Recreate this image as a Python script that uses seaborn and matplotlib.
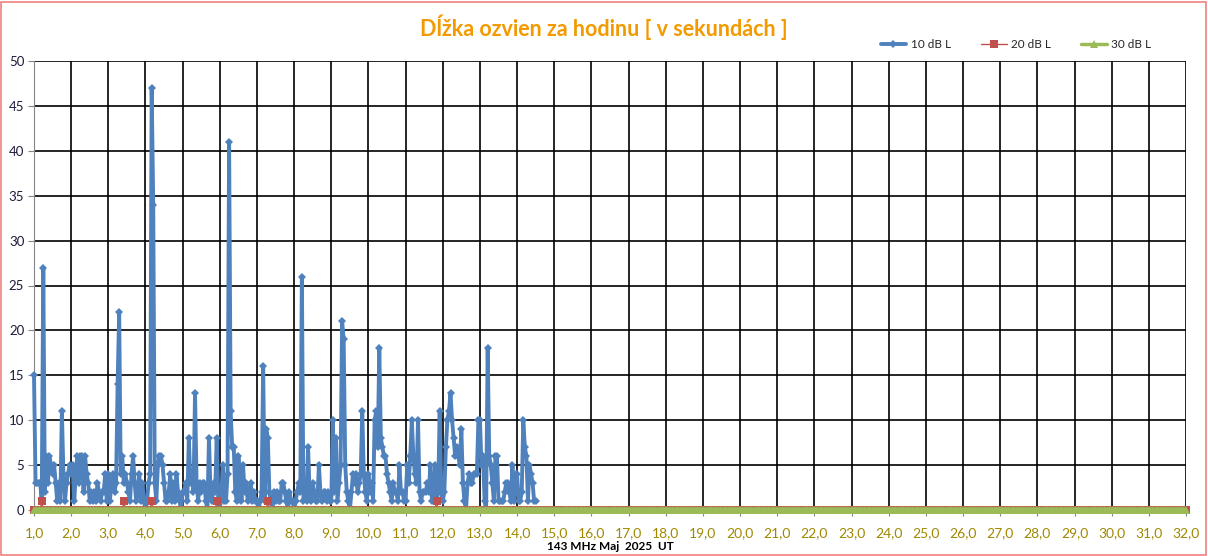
import numpy as np
import pandas as pd
import matplotlib
matplotlib.use('Agg')
import matplotlib.pyplot as plt
from matplotlib.patches import Rectangle
import seaborn as sns

# hourly echo duration [s], 10 dB L, one list per day of May (hour 0..23)
day01 = [15, 3, 3, 3, 3, 1, 27, 2, 6, 3, 6, 5, 4, 5, 3, 1, 3, 1, 11, 4, 1, 3, 4, 5]
day02 = [4, 5, 1, 4, 6, 3, 6, 6, 2, 6, 4, 3, 1, 2, 1, 2, 1, 3, 2, 1, 2, 2, 4, 1]
day03 = [4, 1, 3, 4, 2, 3, 14, 22, 4, 6, 3, 4, 3, 2, 1, 4, 6, 3, 1, 2, 4, 1, 3, 1]
day04 = [0, 1, 3, 4, 47, 34, 3, 1, 5, 6, 6, 5, 3, 1, 1, 2, 4, 1, 3, 1, 4, 2, 1, 0]
day05 = [2, 2, 3, 1, 8, 3, 4, 2, 13, 3, 1, 3, 2, 3, 3, 1, 0, 8, 2, 1, 3, 2, 8, 1]
day06 = [0, 2, 5, 1, 1, 4, 41, 11, 7, 7, 2, 1, 6, 4, 1, 5, 2, 3, 1, 2, 3, 1, 2, 1]
day07 = [1, 0, 1, 2, 16, 1, 9, 8, 2, 1, 0, 2, 1, 2, 1, 1, 3, 3, 2, 1, 0, 2, 1, 1]
day08 = [0, 1, 2, 3, 2, 26, 1, 2, 1, 7, 2, 1, 3, 2, 1, 1, 5, 2, 1, 2, 2, 1, 2, 1]
day09 = [1, 10, 2, 8, 1, 3, 5, 21, 19, 5, 2, 1, 0, 2, 4, 3, 4, 2, 3, 4, 11, 4, 2, 1]
day10 = [4, 2, 3, 1, 10, 11, 7, 18, 8, 7, 6, 6, 4, 3, 2, 1, 3, 2, 2, 1, 5, 2, 2, 1]
day11 = [1, 5, 3, 6, 10, 6, 4, 3, 10, 2, 1, 2, 2, 2, 3, 2, 5, 1, 2, 5, 1, 2, 11, 2]
day12 = [1, 2, 7, 10, 11, 13, 10, 8, 6, 7, 6, 5, 9, 3, 1, 0, 3, 4, 3, 3, 4, 4, 4, 10]
day13 = [10, 5, 6, 1, 0, 18, 6, 5, 3, 1, 6, 6, 1, 1, 1, 1, 2, 3, 3, 2, 1, 5, 1, 4]
day14 = [4, 1, 1, 2, 10, 7, 6, 1, 5, 4, 3, 1, 1]

# 20 dB L: only a few hours with 1 s, zero elsewhere (index = hours since 1.0)
red_hits = {5: 1, 58: 1, 76: 1, 118: 1, 151: 1, 260: 1}
# 30 dB L: zero for the whole month
n_hours = 31 * 24 + 1

series_names = ['10 dB L', '20 dB L', '30 dB L']
colors = {'10 dB L': '#4F81BD', '20 dB L': '#C0504D', '30 dB L': '#9BBB59'}
days = list(range(1, 33))
day_labels = [f'{d},0' for d in days]

blue = np.full(n_hours, np.nan)
vals = day01 + day02 + day03 + day04 + day05 + day06 + day07 + day08 + \
    day09 + day10 + day11 + day12 + day13 + day14
blue[:len(vals)] = vals
red = np.zeros(n_hours)
for k, v in red_hits.items():
    red[k] = v
green = np.zeros(n_hours)
x = 1 + np.arange(n_hours) / 24

sns.set_style('white')
plt.rcParams['font.family'] = ['Lato', 'DejaVu Sans']

fig = plt.figure(figsize=(12.08, 5.56), dpi=100)
ax = fig.add_axes([34 / 1208, 1 - 510 / 556, (1186 - 34) / 1208, (510 - 61) / 556])

sns.lineplot(x=x, y=blue, ax=ax, color=colors['10 dB L'], lw=2.8, marker='D',
             markersize=4.5, markeredgewidth=0, estimator=None, label='10 dB L',
             zorder=3, clip_on=False)
sns.lineplot(x=x, y=red, ax=ax, color=colors['20 dB L'], lw=1.0, marker='s',
             markersize=6, markeredgewidth=0, estimator=None, label='20 dB L',
             zorder=4, clip_on=False)
sns.lineplot(x=x, y=green, ax=ax, color=colors['30 dB L'], lw=2.5, marker='^',
             markersize=5.5, markeredgewidth=0, estimator=None, label='30 dB L',
             zorder=5, clip_on=False)

ax.set_xlim(1, 32)
ax.set_ylim(0, 50)
ax.set_xticks(days)
ax.set_xticklabels(day_labels)
ax.set_yticks(range(0, 51, 5))
ax.grid(True, color='black', lw=1.2)
ax.set_axisbelow(True)
for s in ['top', 'right', 'bottom']:
    ax.spines[s].set_visible(False)
ax.spines['left'].set_color('#868686')
ax.tick_params(axis='y', left=True, length=4, color='#868686', labelsize=9.5,
               labelcolor='#1C1C3C', pad=3)
ax.tick_params(axis='x', bottom=True, length=4, color='#868686', labelsize=10,
               labelcolor='#A08800', pad=8)
ax.set_xlabel('')
ax.set_ylabel('')

ax.legend_.remove()
h, l = ax.get_legend_handles_labels()
fig.legend(h, l, loc='center', bbox_to_anchor=(1016 / 1208, 1 - 45 / 556), ncol=3,
           frameon=False, fontsize=8.5, handlelength=2.2, columnspacing=2.5,
           handletextpad=0.4)

fig.text(604 / 1208, 1 - 27 / 556, 'Dĺžka ozvien za hodinu [ v sekundách ]',
         ha='center', va='center', fontsize=15.5, fontweight='bold', color='#F39A00')
fig.text(610 / 1208, 1 - 547 / 556, '143 MHz Maj  2025  UT',
         ha='center', va='center', fontsize=8.5, fontweight='bold', color='black')

fig.patches.append(Rectangle((0.001, 0.002), 0.997, 0.995, transform=fig.transFigure,
                             fill=False, edgecolor='#F08080', lw=1.2))

fig.savefig('out.png', dpi=100)
